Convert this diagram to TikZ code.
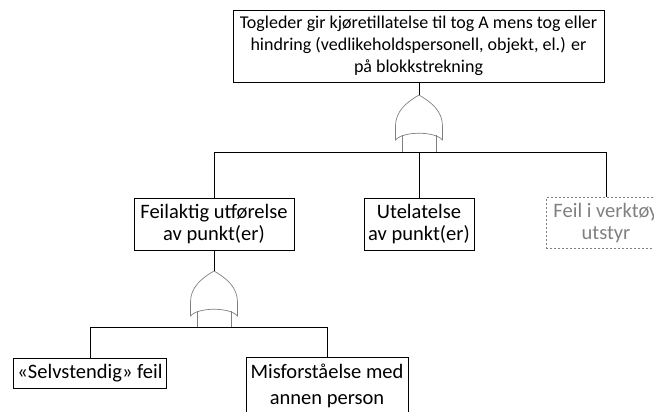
\documentclass[tikz,border=0pt]{standalone}
\usepackage{fontspec}
\setmainfont{Carlito}
\begin{document}
\begin{tikzpicture}[x=1pt,y=-1pt,
  event/.style={draw=black,line width=0.8pt,align=center,inner sep=0pt,
    font=\fontsize{20.5}{22}\selectfont},
  wire/.style={draw=black,line width=0.8pt},
  gateline/.style={draw=gray,line width=0.7pt},
  orgate/.pic={
    \draw[gateline] (0,0) .. controls (-12,7) and (-23.5,16) .. (-23.5,31)
      -- (-23.5,45) .. controls (-16,36) and (16,36) .. (23.5,45)
      -- (23.5,31) .. controls (23.5,16) and (12,7) .. (0,0);
  }]
\useasboundingbox (0,0) rectangle (654,412);

% events
\node[event,font=\fontsize{18}{22}\selectfont,
  minimum width=371pt,minimum height=72pt] (top) at (418.5,46)
  {Togleder gir kjøretillatelse til tog A mens tog eller\\
   hindring (vedlikeholdspersonell, objekt, el.) er\\
   på blokkstrekning};
\node[event,minimum width=160pt,minimum height=52pt] (feil) at (214,224)
  {Feilaktig utførelse\\av punkt(er)};
\node[event,minimum width=110pt,minimum height=52pt] (ute) at (419,224)
  {Utelatelse\\av punkt(er)};
\node[event,draw=gray,text=gray,dash pattern=on 2pt off 2pt,
  minimum width=120pt,minimum height=51pt] (verk) at (606,223)
  {Feil i verktøy\\utstyr};
\node[event,minimum width=153pt,minimum height=30pt] (selv) at (90,373)
  {«Selvstendig» feil};
\node[event,font=\fontsize{20.5}{26}\selectfont,
  minimum width=162pt,minimum height=58pt] (mis) at (327,386)
  {Misforståelse med\\annen person};

% gates and buses
\coordinate (g1) at (419,95);
\coordinate (b1) at (419,152);
\coordinate (g2) at (214,271);
\coordinate (b2) at (214,327);

\pic at (g1) {orgate};
\pic at (g2) {orgate};

\draw[wire] (top.south -| g1) -- (g1);
\draw[gateline] ([xshift=-17pt,yshift=-40pt]g1) -- ([xshift=-17pt]b1);
\draw[gateline] ([xshift=17pt,yshift=-40pt]g1) -- ([xshift=17pt]b1);
\draw[wire] (feil.north) -- (feil.north |- b1) -- (verk.north |- b1) -- (verk.north);
\draw[wire] (b1) -- (ute.north);

\draw[wire] (feil.south) -- (g2);
\draw[gateline] ([xshift=-17pt,yshift=-40pt]g2) -- ([xshift=-17pt]b2);
\draw[gateline] ([xshift=17pt,yshift=-40pt]g2) -- ([xshift=17pt]b2);
\draw[wire] (selv.north) -- (selv.north |- b2) -- (mis.north |- b2) -- (mis.north);
\end{tikzpicture}
\end{document}
